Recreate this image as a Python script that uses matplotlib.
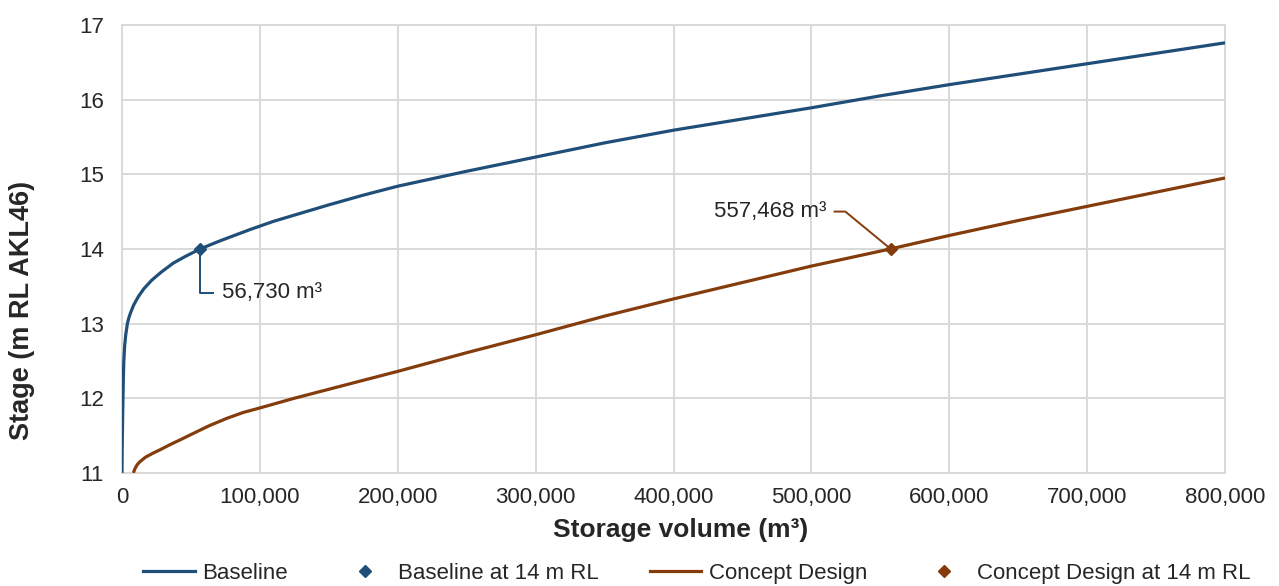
import matplotlib
matplotlib.use("Agg")
import matplotlib.pyplot as plt
from matplotlib.lines import Line2D
from matplotlib.ticker import FuncFormatter

plt.rcParams['font.family'] = ['Liberation Sans', 'DejaVu Sans']

# ---- data ----
baseline_volume = [0, 100, 250, 450, 700, 950, 1300, 1900, 2700, 3900, 5000, 6300, 8500,
                   11800, 16000, 21500, 28500, 37200, 46000, 56730, 70000, 80000, 93000,
                   110000, 130000, 150000, 175000, 200000, 250000, 300000, 350000, 400000,
                   450000, 500000, 550000, 600000, 650000, 700000, 750000, 800000]
baseline_stage = [11.0, 11.3, 11.5, 11.75, 12.0, 12.25, 12.5, 12.7, 12.85, 13.0, 13.08, 13.15, 13.25,
                  13.36, 13.47, 13.58, 13.69, 13.81, 13.9, 14.0, 14.1, 14.17, 14.26,
                  14.37, 14.48, 14.59, 14.72, 14.84, 15.04, 15.23, 15.42, 15.59,
                  15.74, 15.89, 16.05, 16.2, 16.34, 16.48, 16.62, 16.76]

concept_volume = [8200, 9500, 11000, 13000, 17000, 22000, 27600, 35000, 43000, 51800, 63000,
                  75900, 88000, 100000, 125000, 150000, 177000, 200000, 250000, 300000,
                  350000, 400000, 450000, 500000, 557468, 600000, 650000, 700000, 750000,
                  800000]
concept_stage = [11.0, 11.06, 11.11, 11.15, 11.21, 11.26, 11.31, 11.38, 11.45, 11.53, 11.63,
                 11.73, 11.81, 11.87, 12.0, 12.12, 12.25, 12.36, 12.61, 12.85,
                 13.1, 13.33, 13.55, 13.77, 14.0, 14.18, 14.38, 14.57, 14.76,
                 14.95]

baseline_pt = (56730, 14.0)
concept_pt = (557468, 14.0)
baseline_label = "56,730 m³"
concept_label = "557,468 m³"

x_ticks = [0, 100000, 200000, 300000, 400000, 500000, 600000, 700000, 800000]
y_ticks = [11, 12, 13, 14, 15, 16, 17]

BLUE = "#1F4E79"
BROWN = "#843C0C"
GRID = "#D9D9D9"
TXT = "#262626"

fig = plt.figure(figsize=(12.79, 5.86), dpi=100)
ax = fig.add_axes([0.0954, 0.193, 0.8624, 0.7645])

ax.plot(baseline_volume, baseline_stage, color=BLUE, lw=2.3, solid_capstyle='butt',
        solid_joinstyle='round', zorder=3)
ax.plot(concept_volume, concept_stage, color=BROWN, lw=2.3, solid_capstyle='butt',
        solid_joinstyle='round', zorder=3)
ax.plot([baseline_pt[0]], [baseline_pt[1]], 'D', color=BLUE, ms=6.5, zorder=4)
ax.plot([concept_pt[0]], [concept_pt[1]], 'D', color=BROWN, ms=6.5, zorder=4)

# leader lines + labels
b_lab_y = 13.41
ax.plot([baseline_pt[0], baseline_pt[0], 66200], [baseline_pt[1], b_lab_y, b_lab_y],
        color=BLUE, lw=1.4, zorder=3)
ax.text(72300, b_lab_y, baseline_label, ha='left', va='center', fontsize=16, color=TXT)

c_lab_y = 14.5
ax.plot([516800, 524600, concept_pt[0]], [c_lab_y, c_lab_y, concept_pt[1]],
        color=BROWN, lw=1.4, zorder=3)
ax.text(511000, c_lab_y, concept_label, ha='right', va='center', fontsize=16, color=TXT)

ax.set_xlim(0, 800000)
ax.set_ylim(11, 17)
ax.set_xticks(x_ticks)
ax.set_yticks(y_ticks)
ax.xaxis.set_major_formatter(FuncFormatter(lambda v, p: f"{int(v):,}"))
ax.yaxis.set_major_formatter(FuncFormatter(lambda v, p: f"{int(v)}"))
ax.tick_params(axis='both', length=0, labelsize=16, labelcolor=TXT)
ax.tick_params(axis='y', pad=13)
ax.tick_params(axis='x', pad=10)
ax.grid(True, color=GRID, lw=1.4, zorder=0)
ax.set_axisbelow(True)
for s in ax.spines.values():
    s.set_color(GRID)
    s.set_linewidth(1.4)

fig.text(0.532, 0.095, "Storage volume (m³)", ha='center', va='center',
         fontsize=19, fontweight='bold', color=TXT)
fig.text(0.017, 0.47, "Stage (m RL AKL46)", ha='center', va='center', rotation=90,
         fontsize=19.5, fontweight='bold', color=TXT)

handles = [
    Line2D([], [], color=BLUE, lw=2.3),
    Line2D([], [], color=BLUE, marker='D', ls='none', ms=6),
    Line2D([], [], color=BROWN, lw=2.3),
    Line2D([], [], color=BROWN, marker='D', ls='none', ms=6),
]
labels = ["Baseline", "Baseline at 14 m RL", "Concept Design", "Concept Design at 14 m RL"]
fig.legend(handles, labels, loc='center', bbox_to_anchor=(0.545, 0.022), ncol=4,
           frameon=False, fontsize=16, handlelength=2.3, handletextpad=0.35,
           columnspacing=2.3, labelcolor=TXT)

fig.savefig("out.png", dpi=100)
